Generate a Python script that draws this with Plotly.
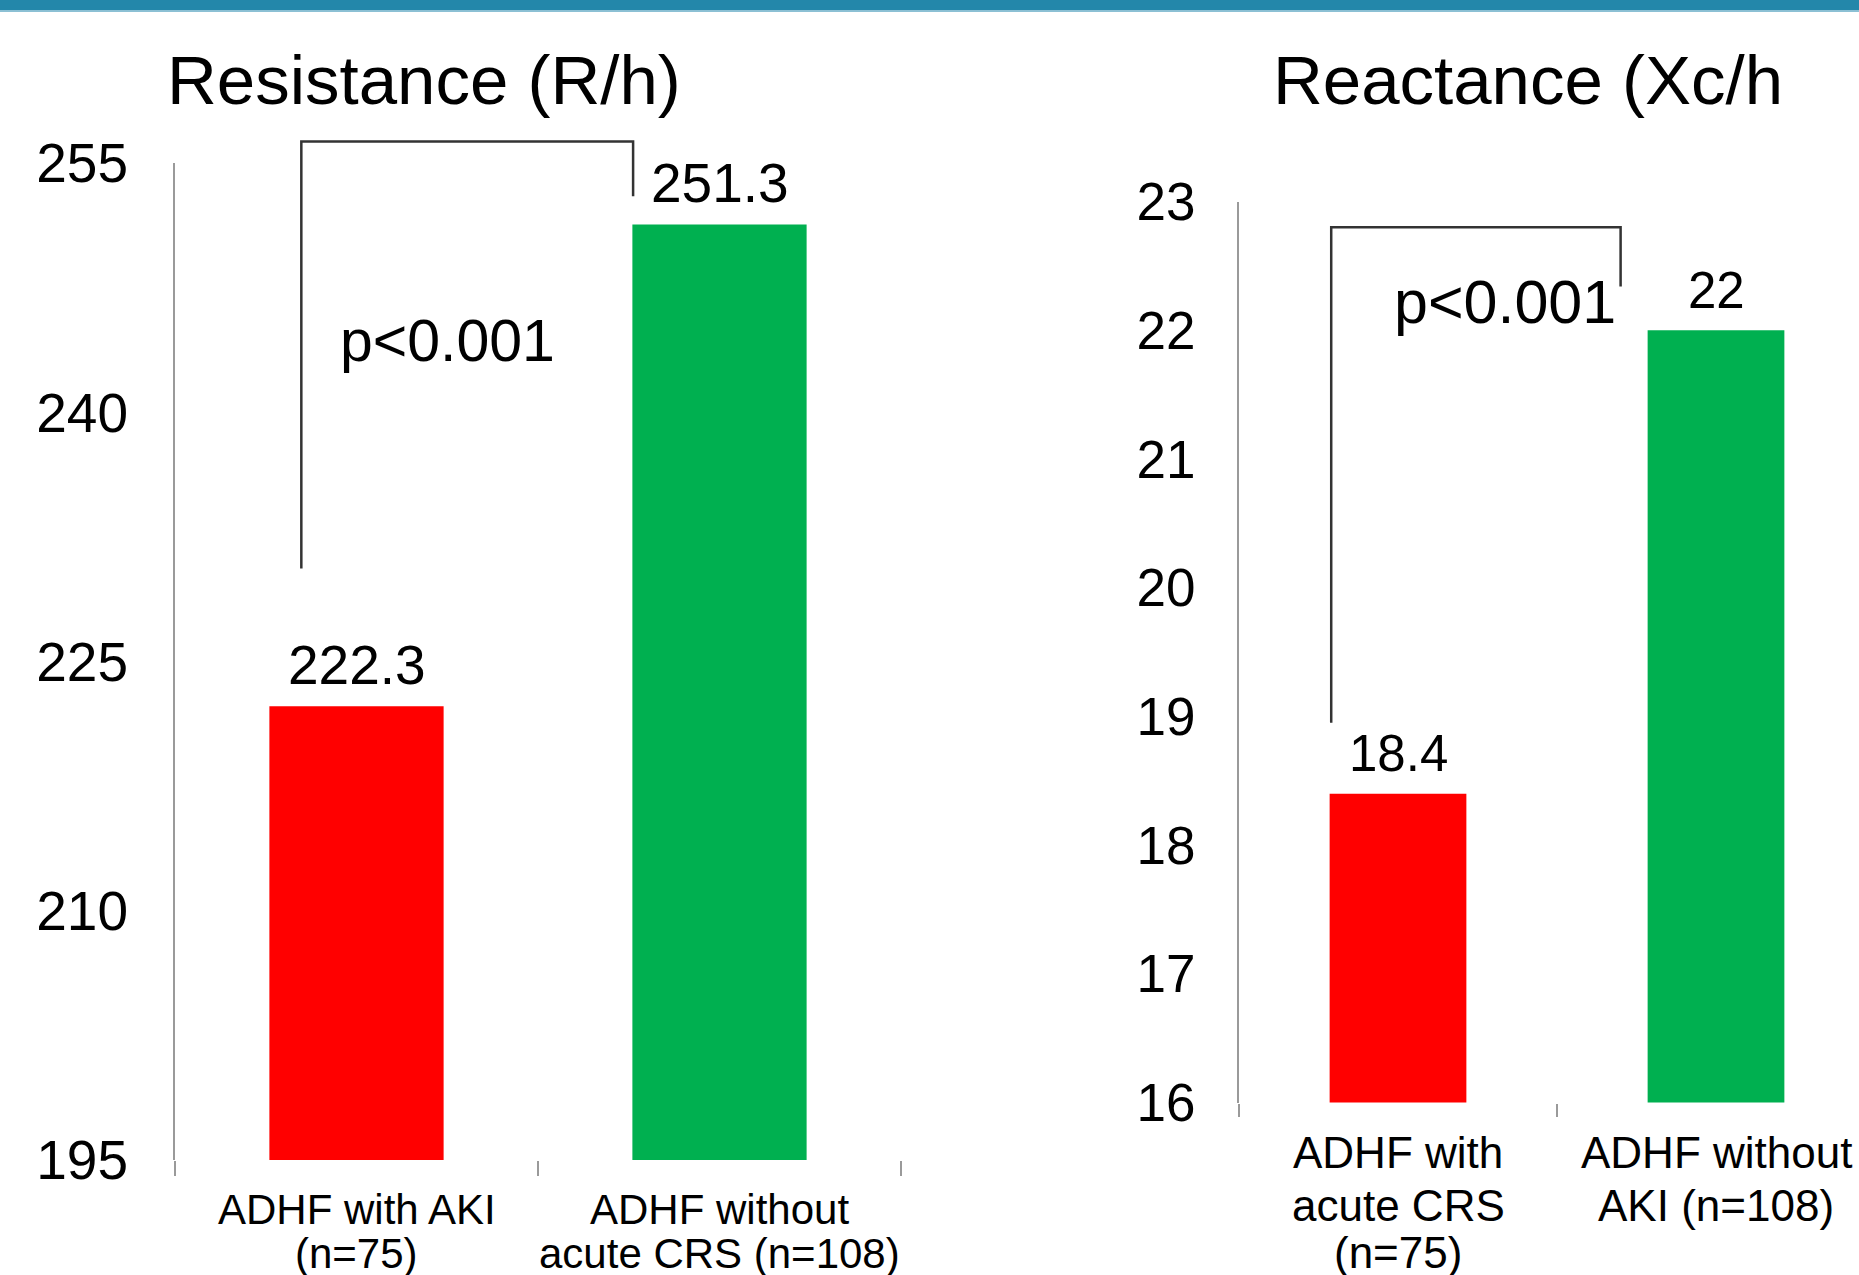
import plotly.graph_objects as go

# Bioimpedance comparison: ADHF patients with vs. without acute kidney injury
res_groups = ["ADHF with AKI", "ADHF without acute CRS"]
res_values = [222.3, 251.3]
res_ticks = [195, 210, 225, 240, 255]
res_label_lines = [["ADHF with AKI", "(n=75)"], ["ADHF without", "acute CRS (n=108)"]]

xc_groups = ["ADHF with acute CRS", "ADHF without AKI"]
xc_values = [18.4, 22]
xc_ticks = [16, 17, 18, 19, 20, 21, 22, 23]
xc_label_lines = [["ADHF with", "acute CRS", "(n=75)"], ["ADHF without", "AKI (n=108)"]]

bar_colors = ["#FF0000", "#00B050"]
p_text = "p<0.001"

FONT = "Arial, Liberation Sans, sans-serif"
W, H = 1859, 1275
AXIS_GREY = "#9A9A9A"
BRACKET = "#333333"

# subplot geometry (paper fractions) and axis ranges
X1_DOM, X1_RANGE = [175 / W, 901 / W], [-0.5, 1.5]
Y1_DOM, Y1_RANGE = [(H - 1160) / H, (H - 163) / H], [195, 255]
X2_DOM, X2_RANGE = [1239 / W, 1.0], [-0.5, 0.5 + (W - 1557) / 318]
Y2_DOM, Y2_RANGE = [(H - 1102.6) / H, (H - 201.5) / H], [16, 23]

fig = go.Figure()

fig.add_trace(go.Bar(
    x=res_groups, y=res_values, marker_color=bar_colors, width=0.48,
    marker_line_width=0, xaxis="x", yaxis="y", showlegend=False,
))
fig.add_trace(go.Bar(
    x=xc_groups, y=xc_values, marker_color=bar_colors, width=0.43,
    marker_line_width=0, xaxis="x2", yaxis="y2", showlegend=False,
))

axis_common = dict(showgrid=False, zeroline=False, fixedrange=True, automargin=False)

fig.update_layout(
    width=W, height=H,
    margin=dict(l=0, r=0, t=0, b=0, autoexpand=False),
    paper_bgcolor="white", plot_bgcolor="white",
    font=dict(family=FONT, color="black"),
    xaxis=dict(
        domain=X1_DOM, range=X1_RANGE, type="category",
        showticklabels=False, showline=False, tickson="boundaries",
        ticks="outside", ticklen=15, tickwidth=2, tickcolor=AXIS_GREY,
        anchor="y", **axis_common,
    ),
    yaxis=dict(
        domain=Y1_DOM, range=Y1_RANGE,
        tickvals=res_ticks, ticks="", showline=True, linecolor=AXIS_GREY,
        linewidth=2, tickfont=dict(family=FONT, size=55, color="black"),
        ticklabelstandoff=34, anchor="x", **axis_common,
    ),
    xaxis2=dict(
        domain=X2_DOM, range=X2_RANGE, type="category",
        showticklabels=False, showline=False, tickson="boundaries",
        ticks="outside", ticklen=13, tickwidth=2, tickcolor=AXIS_GREY,
        anchor="y2", **axis_common,
    ),
    yaxis2=dict(
        domain=Y2_DOM, range=Y2_RANGE,
        tickvals=xc_ticks, ticks="", showline=True, linecolor=AXIS_GREY,
        linewidth=2, tickfont=dict(family=FONT, size=53, color="black"),
        ticklabelstandoff=31, anchor="x2", **axis_common,
    ),
)

# header band
fig.add_shape(type="rect", xref="paper", yref="paper", x0=0, x1=1,
              y0=1 - 10 / H, y1=1, fillcolor="#2387AA", line_width=0, layer="above")
fig.add_shape(type="rect", xref="paper", yref="paper", x0=0, x1=1,
              y0=1 - 12 / H, y1=1 - 10 / H, fillcolor="#8CC0D4", line_width=0, layer="above")


def to_paper(v, dom, rng):
    """Map a data value onto paper coordinates through an axis' domain and range."""
    return dom[0] + (v - rng[0]) / (rng[1] - rng[0]) * (dom[1] - dom[0])


# significance brackets; drawn in paper space so they may rise above the axis top
def bracket(xdom, xrng, ydom, yrng, xl, xr, y_left, y_top, y_right):
    px = lambda v: to_paper(v, xdom, xrng)
    py = lambda v: to_paper(v, ydom, yrng)
    pts = [(xl, y_left), (xl, y_top), (xr, y_top), (xr, y_right)]
    path = "M " + " L ".join(f"{px(a):.5f},{py(b):.5f}" for a, b in pts)
    fig.add_shape(type="path", xref="paper", yref="paper", path=path,
                  line=dict(color=BRACKET, width=2.5))


bracket(X1_DOM, X1_RANGE, Y1_DOM, Y1_RANGE, -0.152, 0.762, 230.6, 256.3, 253.0)
bracket(X2_DOM, X2_RANGE, Y2_DOM, Y2_RANGE, -0.21, 0.70, 18.95, 22.80, 22.34)

annotations = []
# panel titles
annotations.append(dict(text="Resistance (R/h)", xref="paper", yref="paper",
                        x=165 / W, y=(H - 80) / H, xanchor="left", yanchor="middle",
                        showarrow=False, font=dict(family=FONT, size=69, color="black")))
annotations.append(dict(text="Reactance (Xc/h", xref="paper", yref="paper",
                        x=1271 / W, y=(H - 80) / H, xanchor="left", yanchor="middle",
                        showarrow=False, font=dict(family=FONT, size=69, color="black")))

# value labels above each bar
for i, v in enumerate(res_values):
    annotations.append(dict(text=f"{v:g}", xref="x", yref="y", x=i, y=v,
                            yanchor="middle", yshift=41, showarrow=False,
                            font=dict(family=FONT, size=55, color="black")))
for i, v in enumerate(xc_values):
    annotations.append(dict(text=f"{v:g}", xref="x2", yref="y2", x=i, y=v,
                            yanchor="middle", yshift=40, showarrow=False,
                            font=dict(family=FONT, size=51, color="black")))

# p-value notes
annotations.append(dict(text=p_text, xref="x", yref="y", x=0.251, y=244.3,
                        showarrow=False, font=dict(family=FONT, size=59, color="black")))
annotations.append(dict(text=p_text, xref="x2", yref="y2", x=0.336, y=22.22,
                        showarrow=False, font=dict(family=FONT, size=61, color="black")))

# category labels, one line at a time
left_rows = [1209, 1253]
for i, lines in enumerate(res_label_lines):
    for line, ypx in zip(lines, left_rows):
        annotations.append(dict(text=line, xref="x", yref="paper", x=i,
                                y=(H - ypx) / H, yanchor="middle", showarrow=False,
                                font=dict(family=FONT, size=42, color="black")))
right_rows = [1152, 1205, 1252]
for i, lines in enumerate(xc_label_lines):
    for line, ypx in zip(lines, right_rows):
        annotations.append(dict(text=line, xref="x2", yref="paper", x=i,
                                y=(H - ypx) / H, yanchor="middle", showarrow=False,
                                font=dict(family=FONT, size=44, color="black")))

fig.update_layout(annotations=annotations)

fig.write_html("out.html")
